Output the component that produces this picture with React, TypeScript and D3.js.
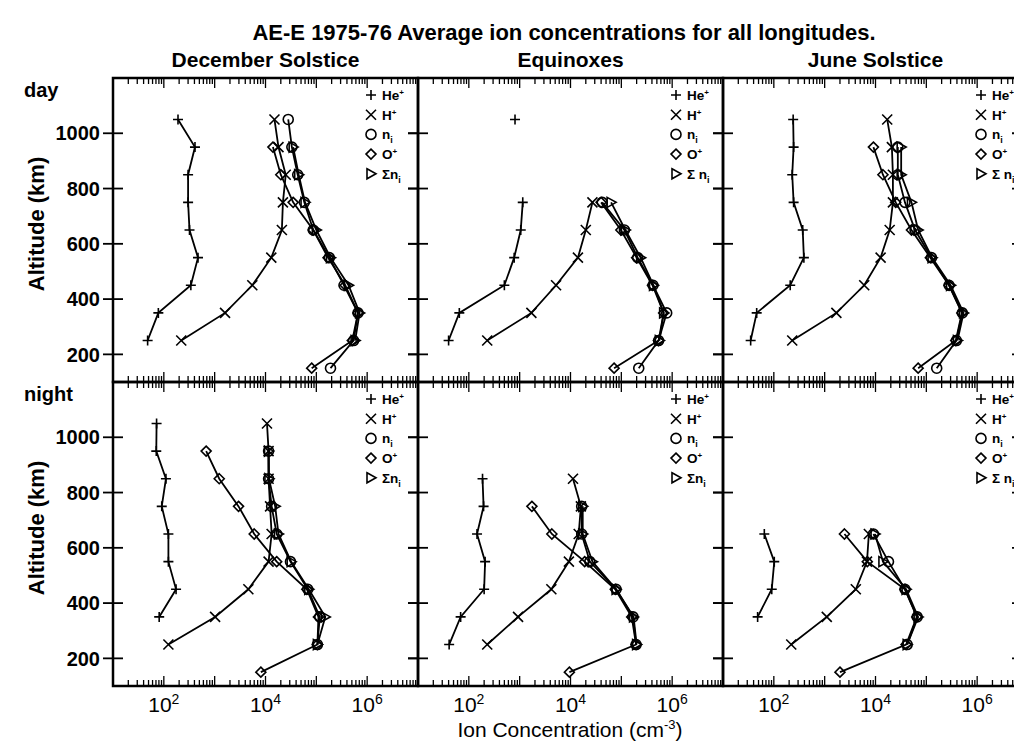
import React from 'react';
import * as d3 from 'd3';

// ---------- data (ion concentration, cm^-3) ----------
const ALTITUDES = [1050, 950, 850, 750, 650, 550, 450, 350, 250, 150];
const SEASONS = ['December Solstice', 'Equinoxes', 'June Solstice'];
const ROW_LABELS = ['day', 'night'];
const Y_TICKS = [200, 400, 600, 800, 1000];
const X_LABEL_EXPONENTS = [2, 4, 6];
const N = null;

// day, December solstice
const dayDecHe = [190, 410, 300, 300, 320, 470, 340, 78, 48, N];
const dayDecH = [15000, 18000, 25000, 22000, 21000, 13000, 5500, 1600, 220, N];
const dayDecNi = [28000, 33000, 43000, 58000, 87000, 180000, 350000, 660000, 540000, 190000];
const dayDecO = [N, 14000, 20000, 35000, 87000, 170000, 370000, 660000, 510000, 81000];
const dayDecSum = [N, 35000, 45000, 60000, 100000, 190000, 430000, 710000, 580000, N];

// day, equinoxes
const dayEqHe = [810, N, N, 1150, 1050, 780, 500, 65, 40, N];
const dayEqH = [N, N, N, 27000, 20000, 14000, 5200, 1700, 230, N];
const dayEqNi = [N, N, N, 42000, 115000, 210000, 420000, 780000, 540000, 220000];
const dayEqO = [N, N, N, 40000, 98000, 200000, 410000, 680000, 540000, 72000];
const dayEqSum = [N, N, N, 63000, 120000, 240000, 430000, 680000, 560000, N];

// day, June solstice
const dayJunHe = [240, 245, 230, 245, 370, 390, 210, 46, 35, N];
const dayJunH = [17000, 21000, 22000, 22000, 19000, 12600, 6000, 1700, 230, N];
const dayJunNi = [N, 27500, 27500, 38000, 60000, 126000, 280000, 510000, 390000, 160000];
const dayJunO = [N, 9100, 14000, 25000, 51000, 120000, 280000, 500000, 380000, 69000];
const dayJunSum = [N, 32000, 32000, 51000, 69000, 130000, 300000, 540000, 410000, N];

// night, December solstice
const nightDecHe = [72, 71, 110, 91, 123, 123, 174, 81, N, N];
const nightDecH = [10700, 11500, 11500, 12300, 13200, 11500, 4600, 1020, 123, N];
const nightDecNi = [N, 11500, 11500, 13200, 16600, 31000, 68000, 117000, 105000, N];
const nightDecO = [N, 680, 1230, 2950, 6000, 16600, 65000, 110000, 105000, 8100];
const nightDecSum = [N, 11500, 11700, 15500, 18000, 32000, 71000, 150000, 105000, N];

// night, equinoxes
const nightEqHe = [N, N, 186, 195, 145, 209, 200, 69, 41, N];
const nightEqH = [N, N, 11200, 16000, 14500, 9300, 4200, 930, 230, N];
const nightEqNi = [N, N, N, 16600, 16600, 24000, 79000, 170000, 195000, N];
const nightEqO = [N, N, N, 1740, 4300, 19000, 76000, 160000, 195000, 9500];
const nightEqSum = [N, N, N, 17400, 17400, 27000, 79000, 174000, 200000, N];

// night, June solstice
const nightJunHe = [N, N, N, N, 65, 102, 91, 48, N, N];
const nightJunH = [N, N, N, N, 7400, 6800, 4100, 1100, 220, N];
const nightJunNi = [N, N, N, N, 9100, 18000, 38000, 66000, 42000, N];
const nightJunO = [N, N, N, N, 2450, 6900, 38000, 65000, 40000, 2000];
const nightJunSum = [N, N, N, N, 9800, 14000, 40000, 69000, 42000, N];

const SPECIES = ['plus', 'cross', 'circle', 'diamond', 'triangle'];

const PANELS = [
  [
    [dayDecHe, dayDecH, dayDecNi, dayDecO, dayDecSum],
    [dayEqHe, dayEqH, dayEqNi, dayEqO, dayEqSum],
    [dayJunHe, dayJunH, dayJunNi, dayJunO, dayJunSum],
  ],
  [
    [nightDecHe, nightDecH, nightDecNi, nightDecO, nightDecSum],
    [nightEqHe, nightEqH, nightEqNi, nightEqO, nightEqSum],
    [nightJunHe, nightJunH, nightJunNi, nightJunO, nightJunSum],
  ],
];
// whether the Σ legend entry has a space ("Σ n")
const SIGMA_SPACE = [
  [false, true, true],
  [false, false, true],
];

// ---------- layout ----------
const W = 1014;
const H = 744;
const PANEL_X0 = 113;
const PANEL_W = 305;
const ROW_TOPS = [78, 382];
const ROW_H = 304;
const FONT = '"Liberation Sans", Arial, Helvetica, sans-serif';

function Marker({ type, x, y }: { type: string; x: number; y: number }) {
  const s = 5;
  const common = { fill: 'none', stroke: '#000', strokeWidth: 1.6 };
  if (type === 'plus') return <path d={`M${x - s},${y}H${x + s}M${x},${y - s}V${y + s}`} {...common} />;
  if (type === 'cross') return <path d={`M${x - s},${y - s}L${x + s},${y + s}M${x - s},${y + s}L${x + s},${y - s}`} {...common} />;
  if (type === 'circle') return <circle cx={x} cy={y} r={s} {...common} />;
  if (type === 'diamond') return <path d={`M${x},${y - s}L${x + s},${y}L${x},${y + s}L${x - s},${y}Z`} {...common} />;
  return <path d={`M${x - 4},${y - 5}L${x + 5},${y}L${x - 4},${y + 5}Z`} {...common} />;
}

function Panel({ row, col }: { row: number; col: number }) {
  const x0 = PANEL_X0 + col * PANEL_W;
  const x1 = x0 + PANEL_W;
  const top = ROW_TOPS[row];
  const bottom = top + ROW_H;
  const x = d3.scaleLog().domain([10, 1e7]).range([x0, x1]);
  const y = d3.scaleLinear().domain([100, 1200]).range([bottom, top]);
  const series = PANELS[row][col];

  const ticks: { v: number; major: boolean }[] = [];
  for (let e = 1; e <= 7; e++) {
    ticks.push({ v: Math.pow(10, e), major: true });
    if (e < 7) for (let m = 2; m <= 9; m++) ticks.push({ v: m * Math.pow(10, e), major: false });
  }

  const line = d3
    .line<[number, number | null]>()
    .defined((d) => d[1] != null)
    .x((d) => x(d[1] as number))
    .y((d) => y(d[0]));

  const legendX = x1 - 47;
  const legendY0 = top + 17;
  const legendDy = 19.7;
  const lfs = 13.5;
  const rightTick = col === 2 ? 16 : 10;

  return (
    <g>
      <rect x={x0} y={top} width={PANEL_W} height={ROW_H} fill="none" stroke="#000" strokeWidth={2.5} />
      {ticks.map((t, i) => {
        const len = t.major ? 10 : 6;
        const xx = x(t.v);
        return (
          <g key={i}>
            <line x1={xx} x2={xx} y1={top} y2={top + len} stroke="#000" strokeWidth={1.3} />
            <line x1={xx} x2={xx} y1={bottom} y2={bottom - len} stroke="#000" strokeWidth={1.3} />
          </g>
        );
      })}
      {Y_TICKS.map((t) => (
        <g key={t}>
          <line x1={x0 - 10} x2={x0 + 10} y1={y(t)} y2={y(t)} stroke="#000" strokeWidth={1.8} />
          <line x1={x1 - rightTick} x2={x1} y1={y(t)} y2={y(t)} stroke="#000" strokeWidth={1.8} />
        </g>
      ))}
      {col === 0 &&
        Y_TICKS.map((t) => (
          <text key={t} x={100} y={y(t)} dy="0.36em" textAnchor="end" fontSize={20} fontWeight="bold" fontFamily={FONT}>
            {t}
          </text>
        ))}
      {row === 1 &&
        X_LABEL_EXPONENTS.map((e) => (
          <text key={e} x={x(Math.pow(10, e))} y={712} textAnchor="middle" fontSize={21} fontFamily={FONT}>
            10
            <tspan fontSize={14} dy={-8}>
              {e}
            </tspan>
          </text>
        ))}
      {series.map((vals, si) => {
        const pts: [number, number | null][] = ALTITUDES.map((a, i) => [a, vals[i]]);
        return <path key={si} d={line(pts) || ''} fill="none" stroke="#000" strokeWidth={1.8} />;
      })}
      {series.map((vals, si) =>
        ALTITUDES.map((a, i) =>
          vals[i] == null ? null : <Marker key={`${si}-${i}`} type={SPECIES[si]} x={x(vals[i] as number)} y={y(a)} />
        )
      )}
      {SPECIES.map((sp, i) => (
        <Marker key={sp} type={sp} x={legendX} y={legendY0 + i * legendDy} />
      ))}
      <g fontFamily={FONT} fontWeight="bold" fontSize={lfs}>
        <text x={legendX + 11} y={legendY0 + 0 * legendDy} dy="0.36em">
          He<tspan fontSize={8} dy={-5}>+</tspan>
        </text>
        <text x={legendX + 11} y={legendY0 + 1 * legendDy} dy="0.36em">
          H<tspan fontSize={8} dy={-5}>+</tspan>
        </text>
        <text x={legendX + 11} y={legendY0 + 2 * legendDy} dy="0.36em">
          n<tspan fontSize={9} dy={4}>i</tspan>
        </text>
        <text x={legendX + 11} y={legendY0 + 3 * legendDy} dy="0.36em">
          O<tspan fontSize={8} dy={-5}>+</tspan>
        </text>
        <text x={legendX + 11} y={legendY0 + 4 * legendDy} dy="0.36em">
          {SIGMA_SPACE[row][col] ? 'Σ n' : 'Σn'}
          <tspan fontSize={9} dy={4}>i</tspan>
        </text>
      </g>
    </g>
  );
}

export default function App() {
  return (
    <svg
      width={W}
      height={H}
      viewBox={`0 0 ${W} ${H}`}
      style={{ position: 'absolute', left: 0, top: 0, background: '#fff' }}
    >
      <rect x={0} y={0} width={W} height={H} fill="#fff" />
      <text x={564} y={40} textAnchor="middle" fontSize={22} fontWeight="bold" fontFamily={FONT}>
        AE-E 1975-76 Average ion concentrations for all longitudes.
      </text>
      {SEASONS.map((s, c) => (
        <text
          key={s}
          x={PANEL_X0 + c * PANEL_W + PANEL_W / 2}
          y={67}
          textAnchor="middle"
          fontSize={21}
          fontWeight="bold"
          fontFamily={FONT}
        >
          {s}
        </text>
      ))}
      {ROW_LABELS.map((r, i) => (
        <text key={r} x={24} y={ROW_TOPS[i] + 19} fontSize={20} fontWeight="bold" fontFamily={FONT}>
          {r}
        </text>
      ))}
      {ROW_TOPS.map((t, i) => (
        <text
          key={i}
          transform={`translate(44,${t + ROW_H / 2 - 6}) rotate(-90)`}
          textAnchor="middle"
          fontSize={22}
          fontWeight="bold"
          fontFamily={FONT}
        >
          Altitude (km)
        </text>
      ))}
      {[0, 1].map((r) => [0, 1, 2].map((c) => <Panel key={`${r}-${c}`} row={r} col={c} />))}
      <text x={570} y={737} textAnchor="middle" fontSize={21} fontFamily={FONT}>
        Ion Concentration (cm<tspan fontSize={13} dy={-8}>-3</tspan>
        <tspan dy={8}>)</tspan>
      </text>
    </svg>
  );
}
